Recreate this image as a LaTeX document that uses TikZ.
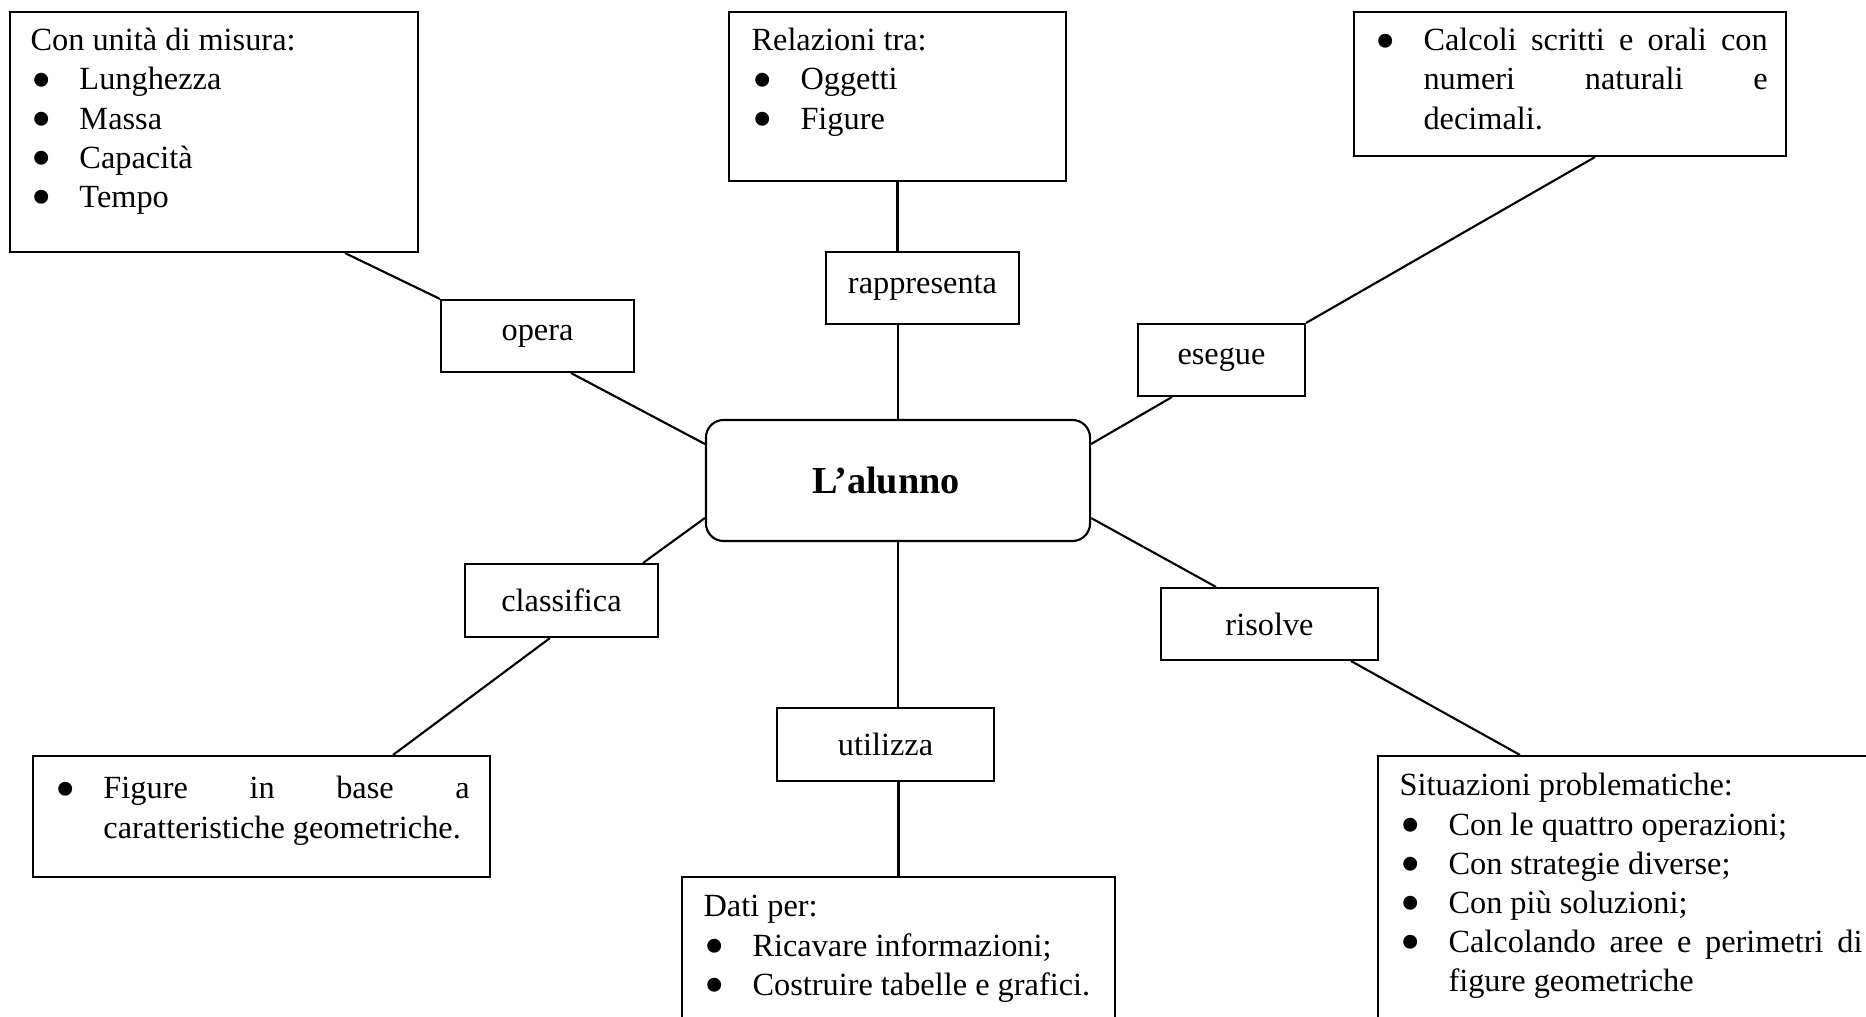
\documentclass[tikz,border=0pt]{standalone}
\usepackage{fontspec}
\setmainfont{Liberation Serif}
\usepackage{graphicx}
\usepackage{tikz}

\hbadness=10000
\hyphenpenalty=10000
\newlength{\bindent}
\setlength{\bindent}{17.4pt}
\newcommand{\bitem}[1]{\par\hangindent=\bindent\hangafter=0\noindent\llap{\makebox[\bindent][l]{\hspace{0.3pt}\smash{\raisebox{-0.3em}{\scalebox{1.8}{\textbullet}}}}}#1}

\begin{document}
\begin{tikzpicture}[x=0.0125cm,y=-0.0125cm]
		\tikzstyle{plain_box}=[draw=black, line width=0.75pt, inner sep=0pt, font=\fontsize{11.5}{13.87}\selectfont]
		\tikzstyle{topic}=[plain_box]
		\tikzstyle{verb}=[plain_box, minimum height=0.9cm]
		\tikzstyle{pupil}=[plain_box, rounded corners=0.22cm, minimum width=4.8cm, minimum height=1.5125cm, font=\fontsize{13.6}{16}\selectfont\bfseries]
		\tikzstyle{topic_text}=[anchor=base west, inner sep=0pt, font=\fontsize{11.5}{13.87}\selectfont]
		\tikzstyle{link}=[line width=0.75pt]

		\path [use as bounding box, clip] (0,0) rectangle (1866,1017);

		\node [pupil] (alunno) at (898,480.5) {\hspace*{-0.3cm}L’alunno};

		\node [verb, minimum width=2.4125cm] (opera) at (537.5,336) {opera};
		\node [verb, minimum width=2.4125cm] (rappresenta) at (922.5,288) {rappresenta};
		\node [verb, minimum width=2.0875cm] (esegue) at (1221.5,360) {esegue};
		\node [verb, minimum width=2.4125cm, minimum height=0.9125cm] (classifica) at (561.5,600.5) {classifica};
		\node [verb, minimum width=2.7125cm] (risolve) at (1269.5,624) {risolve};
		\node [verb, minimum width=2.7125cm, minimum height=0.9125cm] (utilizza) at (885.5,744.5) {utilizza};

		\node [topic, minimum width=5.106cm, minimum height=3cm] (misura) at (214,132) {};
		\node [topic_text] (misura_text) at (30,51) {\parbox[t]{130pt}{Con unità di misura:\bitem{Lunghezza}\bitem{Massa}\bitem{Capacità}\bitem{Tempo}}};

		\node [topic, minimum width=4.2125cm, minimum height=2.1125cm] (relazioni) at (897.5,96.5) {};
		\node [topic_text] (relazioni_text) at (751,51) {\parbox[t]{110pt}{Relazioni tra:\bitem{Oggetti}\bitem{Figure}}};

		\node [topic, minimum width=5.4cm, minimum height=1.8cm] (calcoli) at (1570,84) {};
		\node [topic_text] (calcoli_text) at (1374,51) {\parbox[t]{139.8pt}{\bitem{Calcoli scritti e orali con\linebreak numeri naturali e\linebreak decimali.}}};

		\node [topic, minimum width=5.7125cm, minimum height=1.5125cm] (figura) at (261.5,816.5) {};
		\node [topic_text] (figura_text) at (54,799) {\parbox[t]{147.6pt}{\bitem{Figure in base a\linebreak \mbox{caratteristiche geometriche.}}}};

		\node [topic, minimum width=5.4125cm, minimum height=2.0375cm] (dati) at (898.5,958.5) {};
		\node [topic_text] (dati_text) at (703,917) {\parbox[t]{150pt}{Dati per:\bitem{Ricavare informazioni;}\bitem{Costruire tabelle e grafici.}}};

		\node [topic, minimum width=6.525cm, minimum height=3.55cm] (situazioni) at (1639,898) {};
		\node [topic_text] (situazioni_text) at (1399,796) {\parbox[t]{164.6pt}{Situazioni problematiche:\bitem{Con le quattro operazioni;}\bitem{Con strategie diverse;}\bitem{Con più soluzioni;}\bitem{Calcolando aree e perimetri di\linebreak figure geometriche}}};

		\draw [link] ([xshift=1.6375cm]misura.south) -- (opera.north west);
		\draw [link] ([xshift=0.419cm]opera.south) -- ([yshift=0.456cm]alunno.west);
		\draw [link] (relazioni.south) -- (relazioni.south |- rappresenta.north);
		\draw [link] (alunno.north |- rappresenta.south) -- (alunno.north);
		\draw [link] ([xshift=0.3125cm]calcoli.south) -- (esegue.north east);
		\draw [link] ([xshift=-0.619cm]esegue.south) -- ([yshift=0.456cm]alunno.east);
		\draw [link] ([yshift=-0.469cm]alunno.west) -- ([xshift=1.019cm]classifica.north);
		\draw [link] ([xshift=-0.144cm]classifica.south) -- ([xshift=1.644cm]figura.north);
		\draw [link] ([yshift=-0.469cm]alunno.east) -- ([xshift=-0.669cm]risolve.north);
		\draw [link] ([xshift=1.019cm]risolve.south) -- ([xshift=1.7875cm]situazioni.north west);
		\draw [link] (alunno.south) -- (alunno.south |- utilizza.north);
		\draw [link] (utilizza.south -| dati.north) -- (dati.north);

	\end{tikzpicture}
\end{document}
